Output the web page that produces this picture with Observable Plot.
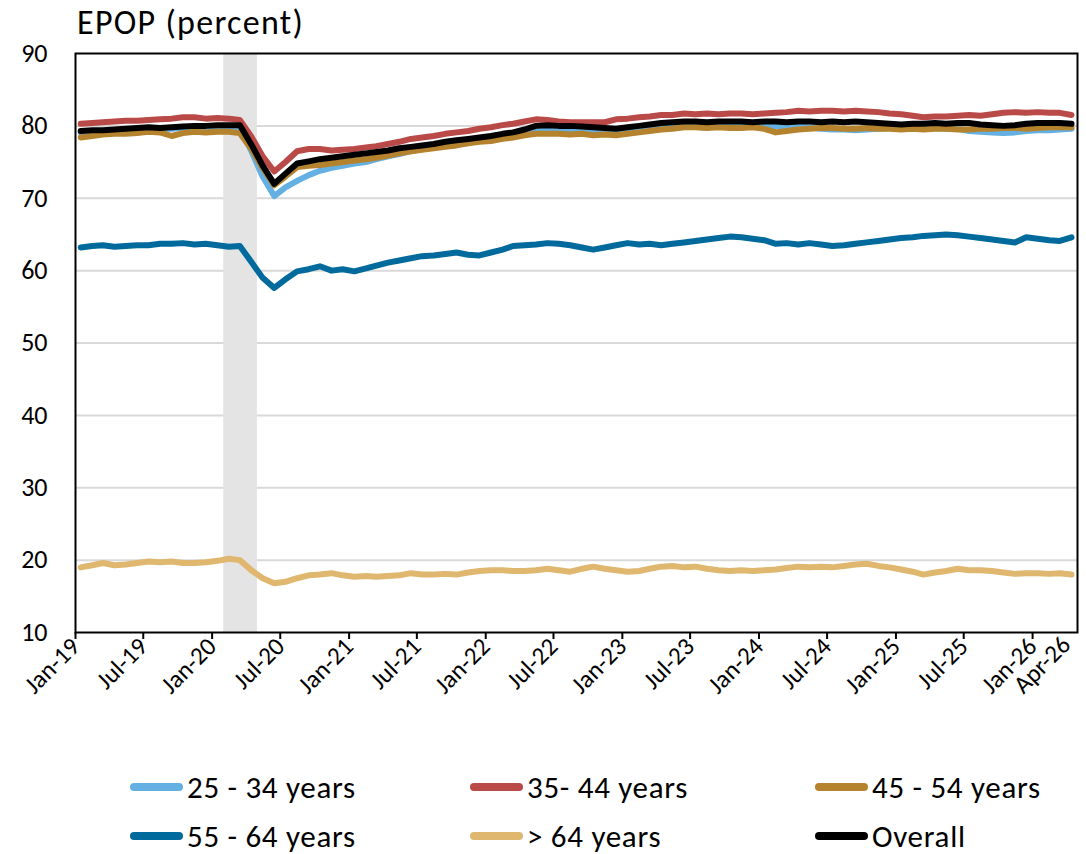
<!DOCTYPE html>
<html>
<head>
<meta charset="utf-8">
<script src="https://cdn.jsdelivr.net/npm/d3@7"></script>
<script src="https://cdn.jsdelivr.net/npm/@observablehq/plot@0.6"></script>
<style>
  html, body { margin: 0; padding: 0; background: #fff; }
  body { width: 1086px; height: 854px; position: relative; overflow: hidden;
         font-family: "Carlito", "Noto Sans", "Open Sans", sans-serif; }
  #title { position: absolute; left: 77px; top: 3px; font-size: 34px; letter-spacing: 1.3px; color: #000; line-height: 40px; z-index: 2; }
  #chart { position: absolute; left: 0; top: 0; z-index: 1; }
  #legend { position: absolute; left: 0; top: 0; z-index: 2; }
  .leg { position: absolute; display: flex; align-items: center; font-size: 31px; letter-spacing: 0.7px; color: #000; height: 40px; white-space: nowrap; }
  .sw { width: 53px; height: 8px; border-radius: 4px; margin-right: 4px; }
</style>
</head>
<body>
<div id="title">EPOP (percent)</div>
<div id="chart"></div>
<div id="legend"></div>
<script>
// ---- Data (monthly, Jan-19 .. Apr-26) ----
const startYear = 2019;
const seriesNames = ["25 - 34 years", "35- 44 years", "45 - 54 years", "55 - 64 years", "> 64 years", "Overall"];
const seriesColors = ["#64b0e2", "#b94a48", "#b5832d", "#006a9c", "#dfb76f", "#000000"];

const age25_34 = [79.1,79.2,79.3,79.3,79.4,79.5,79.6,79.6,79.6,79.7,79.8,79.8,79.9,79.9,79.8,
  76.5,73.0,70.3,71.5,72.4,73.2,73.8,74.2,74.5,74.8,75.0,75.4,75.8,76.1,76.5,76.8,77.0,77.3,77.5,77.8,78.0,
  78.2,78.5,78.8,79.1,79.4,79.5,79.5,79.4,79.4,79.3,79.2,79.1,
  79.4,79.6,79.8,79.9,80.0,79.9,80.0,80.1,80.0,80.1,80.0,80.1,
  80.0,79.9,80.0,79.9,79.8,79.6,79.5,79.5,79.4,79.5,79.6,79.7,
  79.8,79.8,79.7,79.7,79.6,79.6,79.3,79.2,79.1,79.0,79.1,79.3,
  79.4,79.4,79.5,79.6];
const age35_44 = [80.3,80.4,80.5,80.6,80.7,80.7,80.8,80.9,81.0,81.2,81.2,81.0,81.1,81.0,80.8,
  78.5,75.8,73.7,75.0,76.5,76.8,76.8,76.6,76.7,76.8,77.0,77.2,77.5,77.8,78.2,78.4,78.6,78.9,79.1,79.3,79.6,
  79.8,80.1,80.3,80.6,80.9,80.8,80.6,80.5,80.5,80.5,80.5,80.9,
  81.0,81.2,81.3,81.5,81.5,81.7,81.6,81.7,81.6,81.7,81.7,81.6,
  81.7,81.8,81.9,82.1,82.0,82.1,82.1,82.0,82.1,82.0,81.9,81.7,
  81.6,81.4,81.2,81.3,81.3,81.4,81.5,81.4,81.6,81.8,81.9,81.8,
  81.9,81.8,81.8,81.5];
const age45_54 = [78.4,78.6,78.8,78.9,78.9,79.0,79.2,79.1,78.6,79.0,79.2,79.1,79.2,79.2,79.0,
  76.8,74.2,71.8,73.0,74.3,74.5,74.6,74.8,75.0,75.2,75.4,75.6,75.9,76.2,76.5,76.7,76.9,77.1,77.3,77.6,77.8,
  77.9,78.2,78.4,78.7,78.9,78.9,78.9,78.8,78.9,78.7,78.8,78.7,
  78.9,79.1,79.3,79.5,79.6,79.8,79.8,79.7,79.8,79.7,79.7,79.8,
  79.6,79.1,79.3,79.5,79.6,79.7,79.7,79.6,79.6,79.7,79.6,79.6,
  79.5,79.6,79.5,79.6,79.6,79.5,79.5,79.6,79.6,79.7,79.7,79.6,
  79.7,79.8,79.8,79.8];
const age55_64 = [63.2,63.4,63.5,63.3,63.4,63.5,63.5,63.7,63.7,63.8,63.6,63.7,63.5,63.3,63.4,
  61.2,59.0,57.6,58.8,59.9,60.2,60.6,60.0,60.2,59.9,60.3,60.7,61.1,61.4,61.7,62.0,62.1,62.3,62.5,62.2,62.1,
  62.5,62.9,63.4,63.5,63.6,63.8,63.7,63.5,63.2,62.9,63.2,63.5,
  63.8,63.6,63.7,63.5,63.7,63.9,64.1,64.3,64.5,64.7,64.6,64.4,
  64.2,63.7,63.8,63.6,63.8,63.6,63.4,63.5,63.7,63.9,64.1,64.3,
  64.5,64.6,64.8,64.9,65.0,64.9,64.7,64.5,64.3,64.1,63.9,64.6,
  64.4,64.2,64.1,64.6];
const age65plus = [19.0,19.3,19.6,19.3,19.4,19.6,19.8,19.7,19.8,19.6,19.6,19.7,19.9,20.2,20.0,
  18.6,17.5,16.8,17.0,17.5,17.9,18.0,18.2,17.9,17.7,17.8,17.7,17.8,17.9,18.2,18.0,18.0,18.1,18.0,18.3,18.5,
  18.6,18.6,18.5,18.5,18.6,18.8,18.6,18.4,18.8,19.1,18.8,18.6,
  18.4,18.5,18.8,19.1,19.2,19.0,19.1,18.8,18.6,18.5,18.6,18.5,
  18.6,18.7,18.9,19.1,19.0,19.1,19.0,19.2,19.4,19.5,19.2,19.0,
  18.7,18.4,18.0,18.3,18.5,18.8,18.6,18.6,18.5,18.3,18.1,18.2,
  18.2,18.1,18.2,18.0];
const overall = [79.3,79.4,79.4,79.5,79.6,79.7,79.8,79.7,79.8,79.9,80.0,80.0,80.1,80.1,80.1,
  77.4,74.5,72.0,73.4,74.8,75.1,75.4,75.6,75.8,76.0,76.2,76.4,76.6,76.9,77.1,77.3,77.5,77.8,78.0,78.2,78.4,
  78.6,78.9,79.1,79.5,80.0,80.1,80.0,80.0,79.9,79.8,79.7,79.6,
  79.8,80.0,80.2,80.4,80.5,80.6,80.6,80.5,80.6,80.6,80.6,80.5,
  80.6,80.6,80.5,80.6,80.6,80.5,80.6,80.5,80.6,80.5,80.4,80.3,
  80.2,80.3,80.3,80.4,80.3,80.4,80.4,80.2,80.1,80.0,80.1,80.3,
  80.4,80.4,80.4,80.3];

const tickLabels = ["Jan-19","Jul-19","Jan-20","Jul-20","Jan-21","Jul-21","Jan-22","Jul-22",
  "Jan-23","Jul-23","Jan-24","Jul-24","Jan-25","Jul-25","Jan-26"];
const endLabel = ["Apr-26"];
const yTicks = [10,20,30,40,50,60,70,80,90];
const gridTicks = [20,30,40,50,60,70,80];
const recession = [{start: "2020-02-01", end: "2020-05-01"}];

// ---- Build table ----
const allSeries = [age25_34, age35_44, age45_54, age55_64, age65plus, overall];
const rows = [];
allSeries.forEach((vals, s) => {
  vals.forEach((v, i) => {
    rows.push({series: seriesNames[s], date: new Date(Date.UTC(startYear, i, 15)), value: v});
  });
});
const parseTick = d3.utcParse("%b-%y");
const fmtTick = d3.utcFormat("%b-%y");
const tickDates = tickLabels.map(parseTick);
const endDates = endLabel.map(parseTick);
const recRows = recession.map(r => ({x1: new Date(r.start + "T00:00:00Z"), x2: new Date(r.end + "T00:00:00Z")}));

const font = '"Carlito", "Noto Sans", "Open Sans", sans-serif';

const plot = Plot.plot({
  width: 1086,
  height: 740,
  marginTop: 53,
  marginLeft: 75,
  marginRight: 9,
  marginBottom: 108,
  style: {fontFamily: font, color: "#000", background: "transparent", overflow: "visible"},
  x: {type: "utc", domain: [new Date(Date.UTC(2019, 0, 1)), new Date(Date.UTC(2026, 4, 1))]},
  y: {domain: [10, 90]},
  color: {domain: seriesNames, range: seriesColors},
  marks: [
    Plot.gridY({ticks: gridTicks, stroke: "#d9d9d9", strokeOpacity: 1, strokeWidth: 2}),
    Plot.rect(recRows, {x1: "x1", x2: "x2", y1: 10, y2: 90, fill: "#e4e4e4"}),
    ...seriesNames.map((name, s) =>
      Plot.line(rows.filter(d => d.series === name), {
        x: "date", y: "value", stroke: seriesColors[s], strokeWidth: 6,
        strokeLinejoin: "round", strokeLinecap: "round"
      })
    ),
    Plot.frame({stroke: "#000", strokeWidth: 2}),
    Plot.axisY({ticks: yTicks, tickSize: 0, tickPadding: 28, fontSize: 26, label: null}),
    Plot.axisX({ticks: tickDates, tickFormat: fmtTick, tickRotate: -45, tickSize: 7,
      strokeWidth: 2, tickPadding: 3, fontSize: 25, label: null}),
    Plot.axisX({ticks: endDates, tickFormat: fmtTick, tickRotate: -45, tickSize: 0,
      tickPadding: 8, fontSize: 25, label: null})
  ]
});
document.getElementById("chart").appendChild(plot);

// ---- Legend ----
const legPos = [
  {left: 130, top: 767}, {left: 470, top: 767}, {left: 815, top: 767},
  {left: 130, top: 816}, {left: 470, top: 816}, {left: 815, top: 816}
];
const legend = document.getElementById("legend");
seriesNames.forEach((name, s) => {
  const item = document.createElement("div");
  item.className = "leg";
  item.style.left = legPos[s].left + "px";
  item.style.top = legPos[s].top + "px";
  const sw = document.createElement("div");
  sw.className = "sw";
  sw.style.background = seriesColors[s];
  const tx = document.createElement("span");
  tx.textContent = name;
  item.appendChild(sw);
  item.appendChild(tx);
  legend.appendChild(item);
});
</script>
</body>
</html>
